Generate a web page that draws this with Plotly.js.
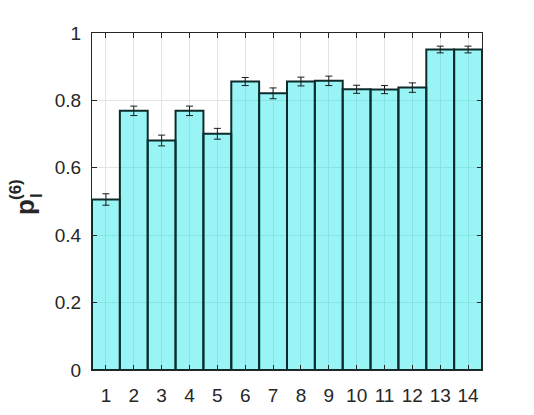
<!DOCTYPE html>
<html>
<head>
<meta charset="utf-8">
<script src="https://cdn.plot.ly/plotly-3.0.1.min.js"></script>
<style>html,body{margin:0;padding:0;background:#fff;}#chart{width:534px;height:415px;}</style>
</head>
<body>
<div id="chart"></div>
<script>
const categories = [1,2,3,4,5,6,7,8,9,10,11,12,13,14];
const values = [0.506,0.769,0.681,0.769,0.701,0.856,0.821,0.856,0.858,0.833,0.832,0.838,0.951,0.951];
const errors = [0.017,0.014,0.016,0.014,0.016,0.012,0.016,0.013,0.014,0.012,0.012,0.014,0.010,0.010];
const yTicks = [0,0.2,0.4,0.6,0.8,1];
const yTickLabels = ['0','0.2','0.4','0.6','0.8','1'];

const W = 534, H = 415;
const m = {l:92, r:52, t:33, b:45};
const pw = W - m.l - m.r, ph = H - m.t - m.b;
const px = x => (x - m.l) / pw;
const py = y => 1 - (y - m.t) / ph;
const fontFam = 'Liberation Sans, Arial, sans-serif';
const axCol = '#262626';

const trace = {
  type: 'bar',
  x: categories,
  y: values,
  width: 1,
  marker: {color: 'rgba(0,230,230,0.4)', line: {color: '#0d2b2b', width: 2}},
  error_y: {type: 'data', array: errors, visible: true, color: '#1a1a1a', thickness: 1, width: 3.5},
  hoverinfo: 'x+y'
};

const layout = {
  width: W, height: H,
  margin: m,
  paper_bgcolor: '#fff', plot_bgcolor: '#fff',
  showlegend: false,
  font: {family: fontFam, size: 19, color: axCol},
  xaxis: {
    range: [0.5, 14.5], tickvals: categories, ticktext: categories.map(String),
    ticks: 'inside', ticklen: 5, tickcolor: axCol, mirror: 'ticks',
    showline: true, linecolor: axCol, linewidth: 1,
    showgrid: true, gridcolor: '#e3e3e3', gridwidth: 1, zeroline: false,
    tickfont: {family: fontFam, size: 19, color: axCol}, ticklabelstandoff: 8
  },
  yaxis: {
    range: [0, 1], tickvals: yTicks, ticktext: yTickLabels,
    ticks: 'inside', ticklen: 5, tickcolor: axCol, mirror: 'ticks',
    showline: true, linecolor: axCol, linewidth: 1,
    showgrid: true, gridcolor: '#e3e3e3', gridwidth: 1, zeroline: false,
    tickfont: {family: fontFam, size: 19, color: axCol}, ticklabelstandoff: 6
  },
  annotations: [
    {xref:'paper', yref:'paper', x: px(25), y: py(207), text: '<b>p</b>', showarrow: false, textangle: -90,
     font: {family: fontFam, size: 26, color: axCol}, xanchor: 'center', yanchor: 'middle'},
    {xref:'paper', yref:'paper', x: px(37), y: py(196), text: '<b>l</b>', showarrow: false, textangle: -90,
     font: {family: fontFam, size: 17, color: axCol}, xanchor: 'center', yanchor: 'middle'},
    {xref:'paper', yref:'paper', x: px(15), y: py(190), text: '<b>(6)</b>', showarrow: false, textangle: -90,
     font: {family: fontFam, size: 17, color: axCol}, xanchor: 'center', yanchor: 'middle'}
  ]
};

Plotly.newPlot('chart', [trace], layout, {displayModeBar: false, staticPlot: true});
</script>
</body>
</html>
